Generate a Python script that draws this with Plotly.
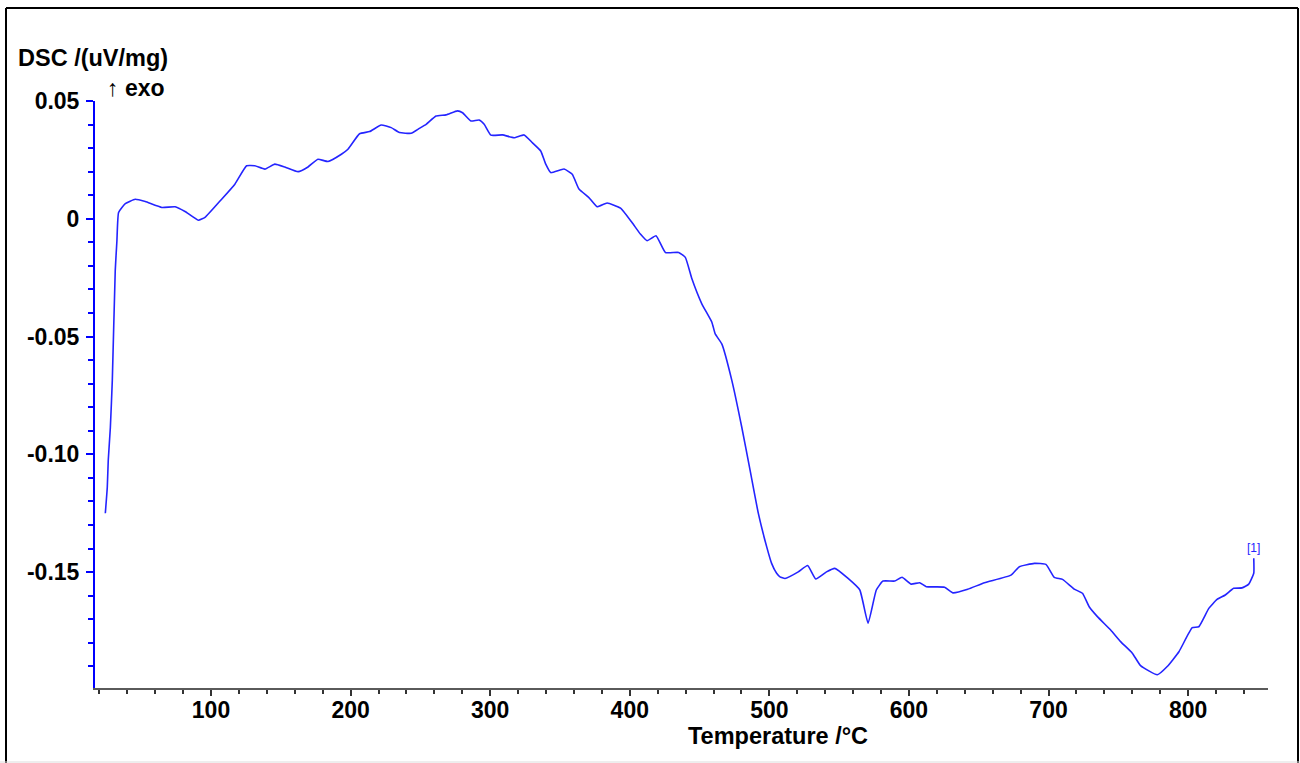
import plotly.graph_objects as go

# Temperature (°C) and DSC signal (uV/mg)
temperature = [24.3, 25.7, 26.4, 27.9, 29.3, 31.4, 32.6, 33.8, 38.6, 45.7, 52.9, 64.8, 74.3, 81.4,
               90.9, 95.7, 107.6, 117.1, 125.5, 131.4, 138.6, 145.7, 152.9, 162.4, 169.5, 176.6,
               183.8, 193.4, 198.1, 206.4, 213.6, 221.9, 229.1, 235.0, 243.4, 249.3, 254.1, 261.2,
               268.4, 276.6, 280.2, 286.2, 292.1, 295.7, 300.5, 308.8, 317.1, 324.3, 330.2, 336.2,
               339.8, 343.4, 352.9, 358.8, 363.6, 370.7, 376.6, 383.8, 393.4, 401.6, 407.6, 412.4,
               418.8, 425.5, 435.0, 439.8, 444.5, 451.6, 458.8, 461.2, 465.9, 473.1, 480.2, 486.2,
               492.1, 498.1, 501.6, 505.2, 507.6, 511.2, 520.7, 527.4, 533.2, 540.9, 546.9, 556.4,
               564.8, 570.7, 576.6, 581.4, 589.8, 595.0, 601.6, 607.6, 612.4, 625.5, 631.4, 642.1,
               654.1, 673.1, 679.1, 689.8, 698.1, 704.1, 710.0, 718.4, 724.3, 729.1, 735.0, 744.5,
               751.6, 760.0, 765.9, 777.9, 785.0, 793.4, 802.9, 807.6, 814.8, 820.7, 826.6, 832.6,
               838.6, 843.4, 847.0, 847.0]
dsc = [-0.1250, -0.1140, -0.1025, -0.0886, -0.0686, -0.0220, -0.0093, 0.0027, 0.0064, 0.0083,
       0.0073, 0.0048, 0.0051, 0.0031, -0.0006, 0.0006, 0.0083, 0.0147, 0.0225, 0.0225, 0.0211,
       0.0232, 0.0220, 0.0200, 0.0220, 0.0253, 0.0243, 0.0274, 0.0295, 0.0361, 0.0370, 0.0398,
       0.0387, 0.0366, 0.0363, 0.0384, 0.0401, 0.0436, 0.0441, 0.0458, 0.0450, 0.0415, 0.0419,
       0.0401, 0.0355, 0.0356, 0.0344, 0.0356, 0.0323, 0.0288, 0.0232, 0.0196, 0.0211, 0.0189,
       0.0126, 0.0090, 0.0051, 0.0067, 0.0045, -0.0016, -0.0065, -0.0093, -0.0072, -0.0143,
       -0.0143, -0.0164, -0.0255, -0.0361, -0.0439, -0.0489, -0.0531, -0.0686, -0.0884, -0.1068,
       -0.1251, -0.1393, -0.1463, -0.1505, -0.1520, -0.1527, -0.1499, -0.1472, -0.1529, -0.1499,
       -0.1484, -0.1527, -0.1576, -0.1717, -0.1576, -0.1538, -0.1538, -0.1522, -0.1551, -0.1545,
       -0.1562, -0.1564, -0.1588, -0.1573, -0.1545, -0.1513, -0.1477, -0.1463, -0.1467, -0.1522,
       -0.1531, -0.1572, -0.1590, -0.1647, -0.1689, -0.1746, -0.1795, -0.1844, -0.1897, -0.1936,
       -0.1901, -0.1838, -0.1736, -0.1732, -0.1654, -0.1616, -0.1597, -0.1569, -0.1567, -0.1551,
       -0.1505, -0.1441]

y_tickvals = [0.05, 0, -0.05, -0.10, -0.15]
y_ticktext = ["0.05", "0", "-0.05", "-0.10", "-0.15"]
x_tickvals = [100, 200, 300, 400, 500, 600, 700, 800]
x_ticktext = ["100", "200", "300", "400", "500", "600", "700", "800"]
curve_label = "[1]"

W, H = 1300, 763
L, R, T, B = 95, 1268, 101, 688
pw, ph = R - L, B - T

def px(x):
    return (x - L) / pw

def py(y):
    return (B - y) / ph

FONT = "Arial, Liberation Sans, sans-serif"

fig = go.Figure()
fig.add_trace(go.Scatter(x=temperature, y=dsc, mode="lines",
                         line=dict(color="#2424ff", width=1.6, shape="spline", smoothing=0.4),
                         showlegend=False, hoverinfo="x+y"))

fig.update_layout(
    width=W, height=H,
    margin=dict(l=L, r=W - R, t=T, b=H - B, pad=0),
    paper_bgcolor="white", plot_bgcolor="white",
    font=dict(family=FONT, color="black"),
    xaxis=dict(range=[16.9, 857.2], showgrid=False, zeroline=False,
               showline=True, linecolor="#5a5a5a", linewidth=2,
               ticks="outside", ticklen=6, tickwidth=1.5, tickcolor="#333333",
               tickmode="array", tickvals=x_tickvals, ticktext=x_ticktext,
               tickfont=dict(family=FONT, size=23, color="black", weight="bold"),
               ticklabelstandoff=-6,
               minor=dict(tickmode="linear", tick0=0, dtick=20, ticks="outside",
                          ticklen=4, tickwidth=1.5, tickcolor="#333333", showgrid=False)),
    yaxis=dict(range=[-0.1992, 0.0500], showgrid=False, zeroline=False,
               showline=True, linecolor="#0000ff", linewidth=2,
               ticks="outside", ticklen=7, tickwidth=1.5, tickcolor="#0000ff",
               tickmode="array", tickvals=y_tickvals, ticktext=y_ticktext,
               tickfont=dict(family=FONT, size=23, color="black", weight="bold"),
               ticklabelstandoff=2,
               minor=dict(tickmode="linear", tick0=0, dtick=0.01, ticks="outside",
                          ticklen=5, tickwidth=1.5, tickcolor="#0000ff", showgrid=False)),
)

fig.add_annotation(text="<b>Temperature /°C</b>", xref="paper", yref="paper",
                   x=px(778), y=py(736), xanchor="center", yanchor="middle",
                   showarrow=False, font=dict(family=FONT, size=23.5, color="black"))
fig.add_annotation(text="<b>DSC /(uV/mg)</b>", xref="paper", yref="paper",
                   x=px(16), y=py(58), xanchor="left", yanchor="middle",
                   showarrow=False, font=dict(family=FONT, size=23.5, color="black"))
fig.add_annotation(text="↑ <b>exo</b>", xref="paper", yref="paper",
                   x=px(105), y=py(88), xanchor="left", yanchor="middle",
                   showarrow=False, font=dict(family=FONT, size=23, color="black"))
fig.add_annotation(text=curve_label, x=temperature[-1], y=dsc[-1],
                   xanchor="center", yanchor="bottom", yshift=1,
                   showarrow=False, font=dict(family=FONT, size=12, color="#2424ff"))

# outer frame
frame = dict(xref="paper", yref="paper", line=dict(color="black", width=2))
fig.add_shape(type="line", x0=px(6), x1=px(1298), y0=py(8), y1=py(8), **frame)
fig.add_shape(type="line", x0=px(6), x1=px(6), y0=py(8), y1=py(763), **frame)
fig.add_shape(type="line", x0=px(1298), x1=px(1298), y0=py(8), y1=py(763), **frame)
fig.add_shape(type="line", x0=px(0), x1=px(1300), y0=py(762), y1=py(762),
              xref="paper", yref="paper", line=dict(color="#dddddd", width=1))

fig.write_html("out.html", config={"displayModeBar": False},
               post_script="document.body.style.margin='0';document.body.style.overflow='hidden';")
